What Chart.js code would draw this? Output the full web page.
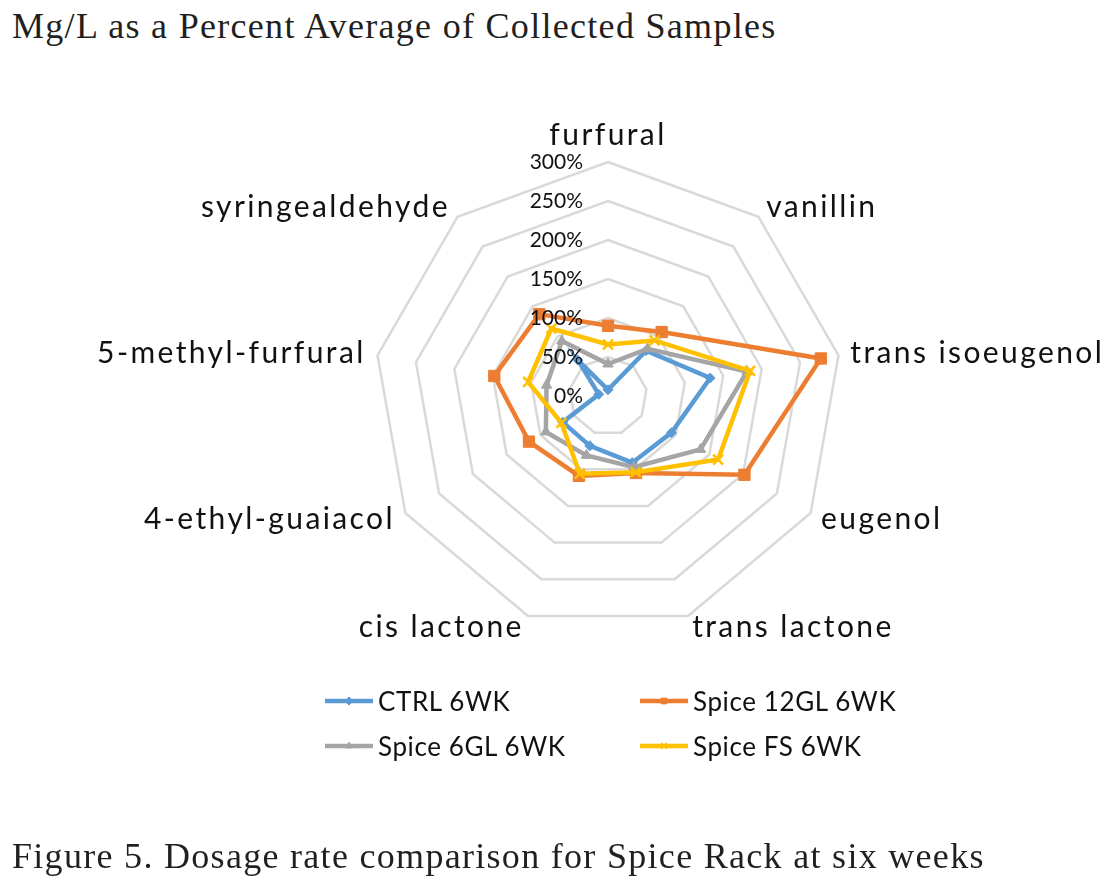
<!DOCTYPE html>
<html>
<head>
<meta charset="utf-8">
<script src="https://cdn.jsdelivr.net/npm/chart.js@4.4.1/dist/chart.umd.min.js"></script>
<style>
  html, body { margin: 0; padding: 0; background: #fff; }
  body { width: 1120px; height: 885px; position: relative; overflow: hidden; }
  .caption { position: absolute; left: 12px; font-family: "Liberation Serif", serif; color: #231f20; white-space: nowrap;
             font-size: 36px; letter-spacing: 1.3px; }
  #title { top: 5px; }
  #caption { top: 835px; }
  #radar { position: absolute; left: 0; top: 0; }
  #legend { position: absolute; left: 323px; top: 685px; display: grid; grid-template-columns: 315px 300px; row-gap: 13px;
            font-family: Lato, sans-serif; font-size: 26px; letter-spacing: 0.6px; color: #111; }
  .item { display: flex; align-items: center; white-space: nowrap; }
  .item canvas { margin-right: 3px; }
</style>
</head>
<body>
<div id="title" class="caption">Mg/L as a Percent Average of Collected Samples</div>
<canvas id="radar" width="1120" height="885"></canvas>
<div id="legend"></div>
<div id="caption" class="caption">Figure 5. Dosage rate comparison for Spice Rack at six weeks</div>

<script>
// Dados (percentagem da média)
const categories = ['furfural', 'vanillin', 'trans isoeugenol', 'eugenol', 'trans lactone',
                    'cis lactone', '4-ethyl-guaiacol', '5-methyl-furfural', 'syringealdehyde'];
const seriesNames = ['CTRL 6WK', 'Spice 12GL 6WK', 'Spice 6GL 6WK', 'Spice FS 6WK'];
const ctrl6wk    = [8, 76, 133, 94, 91, 68, 67, 12, 60];
const spice12gl  = [90, 107, 277, 202, 105, 109, 117, 148, 137];
const spice6gl   = [41, 79, 181, 137, 97, 81, 92, 80, 92];
const spiceFs    = [66, 93, 185, 163, 104, 106, 69, 104, 113];
const tickValues = [0, 50, 100, 150, 200, 250, 300];

const colors = ['#5B9BD5', '#ED7D31', '#A5A5A5', '#FFC000'];
const pointStyles = ['rectRot', 'rect', 'triangle', 'crossRot'];
const pointSizes = [5, 8, 6, 7];

function makeDataset(i, data) {
    return {
        label: seriesNames[i],
        data: data,
        borderColor: colors[i],
        backgroundColor: colors[i],
        borderWidth: 4.5,
        fill: false,
        pointStyle: pointStyles[i],
        pointRadius: pointSizes[i],
        pointBorderWidth: i === 3 ? 2.5 : 1,
        pointBorderColor: colors[i],
        pointBackgroundColor: colors[i],
        order: 3 - i // a última série fica por cima
    };
}

// Rótulos das categorias e dos ticks, posicionados pela própria escala
const radarText = {
    id: 'radarText',
    afterDatasetsDraw(chart) {
        const scale = chart.scales.r;
        const ctx = chart.ctx;
        ctx.save();
        ctx.fillStyle = '#111';

        ctx.font = '21px Lato';
        ctx.textAlign = 'right';
        ctx.textBaseline = 'middle';
        tickValues.forEach(v => {
            const d = scale.getDistanceFromCenterForValue(v);
            ctx.fillText(v + '%', scale.xCenter - 25, scale.yCenter - d);
        });

        ctx.font = '30px Lato';
        ctx.letterSpacing = '2.4px';
        categories.forEach((label, i) => {
            const p = scale.getPointPosition(i, scale.drawingArea + 12);
            if (Math.abs(p.x - scale.xCenter) < 2) {
                ctx.textAlign = 'center';
                ctx.textBaseline = 'bottom';
            } else {
                ctx.textAlign = p.x > scale.xCenter ? 'left' : 'right';
                ctx.textBaseline = 'middle';
            }
            ctx.fillText(label, p.x, p.y);
        });
        ctx.restore();
    }
};

// Legenda em HTML (2 colunas)
const htmlLegend = {
    id: 'htmlLegend',
    afterUpdate(chart) {
        const box = document.getElementById('legend');
        box.innerHTML = '';
        chart.data.datasets.forEach((ds, i) => {
            const item = document.createElement('div');
            item.className = 'item';
            const c = document.createElement('canvas');
            c.width = 52; c.height = 20;
            const g = c.getContext('2d');
            g.strokeStyle = ds.borderColor;
            g.fillStyle = ds.backgroundColor;
            g.lineWidth = 4.5;
            g.beginPath();
            g.moveTo(2, 10);
            g.lineTo(50, 10);
            g.stroke();
            g.lineWidth = i === 3 ? 2 : 1;
            Chart.helpers.drawPoint(g, { pointStyle: ds.pointStyle, radius: 4, rotation: 0, borderWidth: g.lineWidth }, 26, 10);
            const span = document.createElement('span');
            span.textContent = ds.label;
            item.appendChild(c);
            item.appendChild(span);
            box.appendChild(item);
        });
    }
};

const chart = new Chart(document.getElementById('radar'), {
    type: 'radar',
    data: {
        labels: categories,
        datasets: [
            makeDataset(0, ctrl6wk),
            makeDataset(1, spice12gl),
            makeDataset(2, spice6gl),
            makeDataset(3, spiceFs)
        ]
    },
    options: {
        responsive: false,
        animation: false,
        layout: { padding: { left: 374, right: 278, top: 162, bottom: 255 } },
        plugins: {
            legend: { display: false },
            tooltip: { enabled: false }
        },
        scales: {
            r: {
                min: 0,
                max: 300,
                ticks: { stepSize: 50, display: false },
                grid: { color: '#D9D9D9', lineWidth: 2.5 },
                angleLines: { display: false },
                pointLabels: { display: false }
            }
        }
    },
    plugins: [radarText, htmlLegend]
});
</script>
</body>
</html>
